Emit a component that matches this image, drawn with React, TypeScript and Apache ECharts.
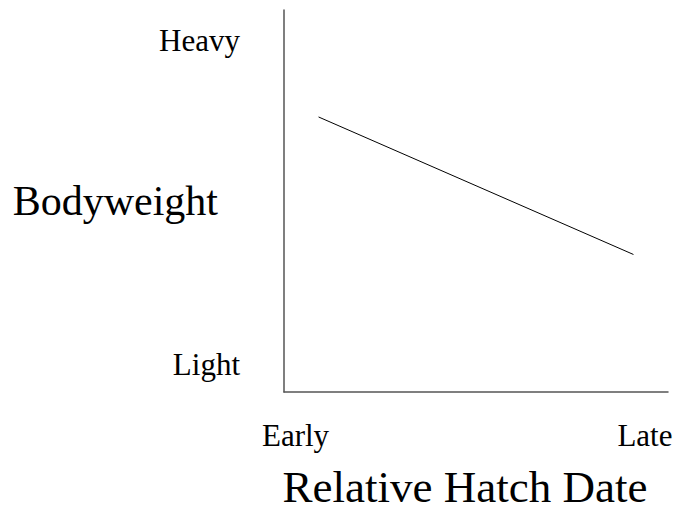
import React, { useEffect, useRef } from "react";
import * as echarts from "echarts";

const xName = "Relative Hatch Date";
const yName = "Bodyweight";
const xTickValues = [3, 94];
const xTickLabels = ["Early", "Late"];
const yTickValues = [7.3, 92.1];
const yTickLabels = ["Light", "Heavy"];
const lineX = [9, 91];
const lineY = [72, 36];

const FONT = "'Liberation Serif', 'Times New Roman', serif";

export default function App() {
  const ref = useRef<HTMLDivElement>(null);
  useEffect(() => {
    if (!ref.current) return;
    const chart = echarts.init(ref.current, null, { renderer: "svg" });
    chart.setOption({
      animation: false,
      backgroundColor: "#ffffff",
      grid: { left: 284, right: 12, top: 10, bottom: 118, containLabel: false, outerBoundsMode: "none" },
      xAxis: {
        type: "value",
        min: 0,
        max: 100,
        name: xName,
        nameLocation: "middle",
        nameGap: 72,
        nameMoveOverlap: false,
        nameTextStyle: { fontFamily: FONT, fontSize: 45, color: "#000", padding: [0, 22, 0, 0] },
        axisLine: { show: true, lineStyle: { color: "#555", width: 1.5 } },
        axisTick: { show: false },
        splitLine: { show: false },
        axisLabel: {
          customValues: xTickValues,
          formatter: (v: number) => xTickLabels[xTickValues.indexOf(v)] ?? "",
          fontFamily: FONT,
          fontSize: 31,
          color: "#000",
          margin: 28,
        },
      },
      yAxis: {
        type: "value",
        min: 0,
        max: 100,
        name: yName,
        nameLocation: "middle",
        nameRotate: 0,
        nameGap: 66,
        nameMoveOverlap: false,
        nameTextStyle: { fontFamily: FONT, fontSize: 42, color: "#000", padding: [6, 0, 0, 0] },
        axisLine: { show: true, lineStyle: { color: "#555", width: 1.5 } },
        axisTick: { show: false },
        splitLine: { show: false },
        axisLabel: {
          customValues: yTickValues,
          formatter: (v: number) => yTickLabels[yTickValues.indexOf(v)] ?? "",
          fontFamily: FONT,
          fontSize: 31,
          color: "#000",
          margin: 44,
        },
      },
      series: [
        {
          type: "line",
          data: lineX.map((x, i) => [x, lineY[i]]),
          symbol: "none",
          lineStyle: { color: "#000", width: 1 },
        },
      ],
    });
    return () => chart.dispose();
  }, []);
  return <div ref={ref} style={{ width: 680, height: 510, position: "absolute", left: 0, top: 0 }} />;
}
